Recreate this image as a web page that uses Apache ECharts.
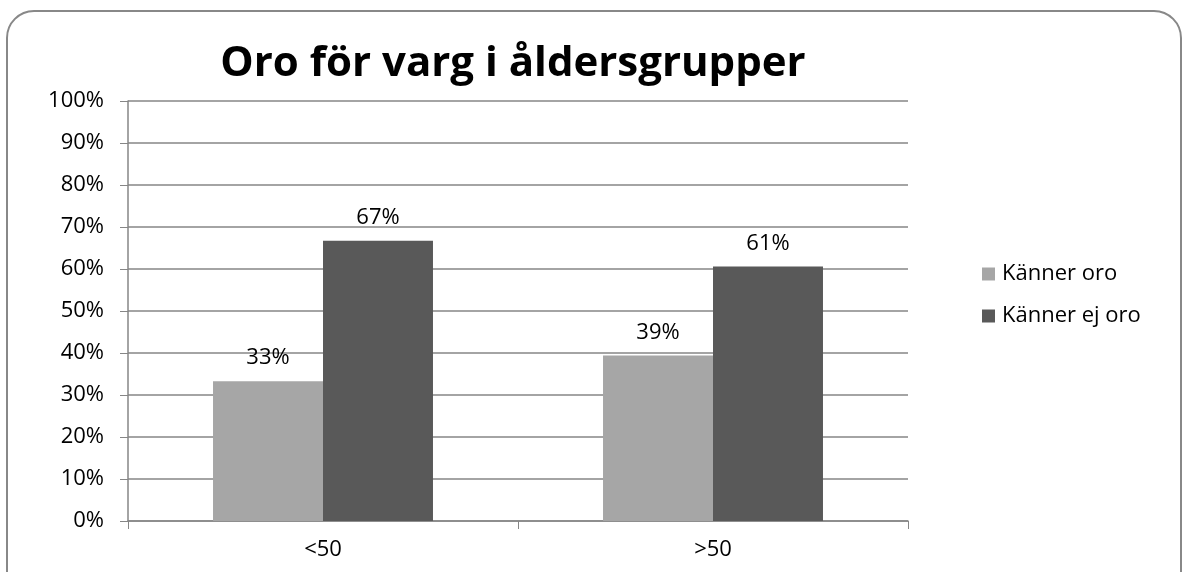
<!DOCTYPE html>
<html>
<head>
<meta charset="utf-8">
<script src="https://cdn.jsdelivr.net/npm/echarts@6/dist/echarts.min.js"></script>
<style>
  html, body { margin: 0; padding: 0; background: #fff; }
  .frame {
    position: absolute; left: 6px; top: 10px; width: 1176px; height: 620px;
    border: 2px solid #888; border-radius: 28px; box-sizing: border-box;
  }
  #main { position: absolute; left: 0; top: 0; width: 1189px; height: 572px; }
</style>
</head>
<body>
<div class="frame"></div>
<div id="main"></div>
<script>
// data
const categories = ["<50", ">50"];
const seriesNames = ["Känner oro", "Känner ej oro"];
const kannerOro = [33.3, 39.4];
const kannerEjOro = [66.7, 60.6];
const colors = ["#a6a6a6", "#595959"];

const chart = echarts.init(document.getElementById("main"));
const font = "'Open Sans', sans-serif";

const labelOpt = {
  show: true,
  position: "top",
  distance: 12,
  color: "#000",
  fontSize: 22,
  fontFamily: font,
  formatter: (p) => Math.round(p.value) + "%",
};

const option = {
  animation: false,
  title: {
    text: "Oro för varg i åldersgrupper",
    left: 508,
    textAlign: "center",
    top: 38,
    textStyle: { fontSize: 42, fontWeight: "bold", color: "#000", fontFamily: font },
  },
  color: colors,
  legend: {
    orient: "vertical",
    left: 977,
    top: 254,
    itemWidth: 13,
    itemHeight: 13,
    itemGap: 12,
    icon: "rect",
    textStyle: { fontSize: 22, color: "#000", fontFamily: font, padding: [0, 0, 0, 2], lineHeight: 30 },
    data: seriesNames,
  },
  grid: { left: 128, right: 281, top: 101, bottom: 51 },
  xAxis: {
    type: "category",
    data: categories,
    axisLine: { lineStyle: { color: "#868686", width: 1.5 } },
    axisTick: { show: true, length: 8, alignWithLabel: false, lineStyle: { color: "#868686" } },
    axisLabel: { fontSize: 22, color: "#000", fontFamily: font, margin: 18 },
  },
  yAxis: {
    type: "value",
    min: 0,
    max: 100,
    interval: 10,
    axisLine: { show: true, lineStyle: { color: "#868686", width: 1.5 } },
    axisTick: { show: true, length: 8, lineStyle: { color: "#868686" } },
    axisLabel: { fontSize: 22, color: "#000", fontFamily: font, margin: 24, formatter: "{value}%" },
    splitLine: { lineStyle: { color: "#868686", width: 1.5 } },
  },
  series: [
    {
      name: seriesNames[0],
      type: "bar",
      data: kannerOro,
      barWidth: "28.2%",
      barGap: "0%",
      label: labelOpt,
    },
    {
      name: seriesNames[1],
      type: "bar",
      data: kannerEjOro,
      barWidth: "28.2%",
      label: labelOpt,
    },
  ],
};
chart.setOption(option);
</script>
</body>
</html>
